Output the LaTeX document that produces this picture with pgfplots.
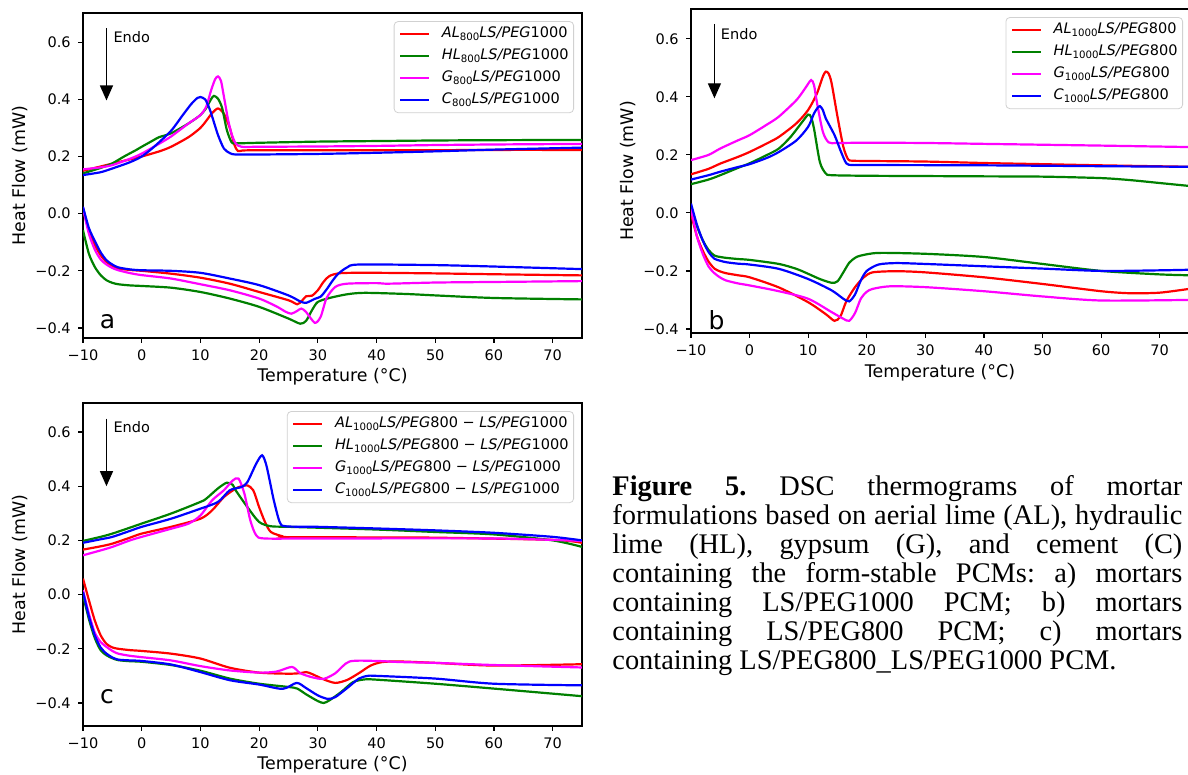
\documentclass[border=0pt]{standalone}
\usepackage{fontspec}
\setmainfont{Liberation Serif}
\newfontfamily\mpl{DejaVu Sans}
\usepackage{pgfplots}
\pgfplotsset{compat=1.18}
\usetikzlibrary{arrows.meta}
\definecolor{mplred}{HTML}{FF0000}
\definecolor{mplgreen}{HTML}{008000}
\definecolor{mplmag}{HTML}{FF00FF}
\definecolor{mplblue}{HTML}{0000FF}
\newcommand\tickfont{\mpl\fontsize{7.25}{8.7}\selectfont}
\newcommand\labfont{\mpl\fontsize{8.7}{10}\selectfont}
\newcommand\lsub[1]{\raisebox{-1.3pt}{\fontsize{5.1}{6}\selectfont #1}}
\newcommand\capline[2]{\node[anchor=base west, inner sep=0pt] at (306pt,#1) {\frenchspacing\makebox[285pt][s]{#2}};}
\tikzset{endo/.style={-{Triangle[width=6.5pt,length=7.5pt]}, line width=0.65pt, black}}

\pgfplotsset{
  dsc/.style={
    scale only axis, anchor=south west,
    xmin=-10, xmax=75,
    xtick={-10,0,10,20,30,40,50,60,70},
    xticklabels={−10,0,10,20,30,40,50,60,70},
    ytick={-0.4,-0.2,0,0.2,0.4,0.6},
    yticklabels={−0.4,−0.2,0.0,0.2,0.4,0.6},
    tick pos=left, tick align=outside,
    major tick length=2.5pt,
    every tick/.style={black, line width=0.6pt},
    axis line style={black, line width=0.6pt},
    ticklabel style={font=\tickfont, inner sep=0pt},
    xticklabel shift=3pt, yticklabel shift=3.5pt,
    label style={font=\labfont},
    xlabel={Temperature (°C)}, ylabel={Heat Flow (mW)},
    xlabel style={anchor=center},
    ylabel style={anchor=center},
    legend cell align=left,
    legend style={font=\tickfont, draw=black!18, fill=white, fill opacity=0.8,
      text opacity=1, rounded corners=2pt, inner xsep=2.5pt, inner ysep=2.5pt,
      row sep=3.4pt, anchor=north east,
      nodes={inner sep=0pt, text height=5.7pt, text depth=1.9pt},
      /tikz/every odd column/.append style={column sep=5.8pt}},
    legend image code/.code={\draw[#1] (0pt,0pt) -- (14.5pt,0pt);},
    every axis plot/.append style={line width=1.1pt, smooth, tension=0.45},
  },
}

\begin{document}
\begin{tikzpicture}
\useasboundingbox (0,0) rectangle (594pt,387.5pt);

% ---------------- a ----------------
\begin{axis}[dsc, at={(41.5pt,218.5pt)}, width=249.5pt, height=162.5pt,
  ymin=-0.435, ymax=0.702,
  xlabel style={at={(axis description cs:0.5,-0.12)}},
  ylabel style={at={(axis description cs:-0.126,0.5)}},
  legend style={at={(axis description cs:0.984,0.975)}}]
\addplot[mplred] coordinates {(-10,0.150) (-7,0.165) (-5,0.175) (-2,0.19) (0,0.200) (3,0.218) (5,0.234) (8,0.268) (10,0.300) (11,0.325) (12,0.352) (13,0.368) (14,0.35) (15,0.3) (15.8,0.24) (16.4,0.219) (17.2,0.221) (20,0.222) (30,0.222) (40,0.222) (50,0.222) (60,0.223) (75,0.223)};
\addlegendentry{{\itshape AL}\lsub{800}{\itshape LS/PEG}1000}
\addplot[mplred, forget plot] coordinates {(-10,0.018) (-9,-0.06) (-8,-0.11) (-7,-0.145) (-6,-0.169) (-5,-0.183) (-4,-0.192) (-2,-0.197) (0,-0.2) (5,-0.21) (10,-0.224) (15,-0.245) (20,-0.274) (25,-0.303) (26.5,-0.317) (27.3,-0.305) (28,-0.289) (29,-0.287) (30,-0.268) (31,-0.238) (32,-0.218) (34,-0.208) (40,-0.207) (50,-0.209) (60,-0.212) (75,-0.216)};
\addplot[mplgreen] coordinates {(-10,0.141) (-7,0.16) (-5,0.176) (-3,0.2) (-1,0.222) (0,0.234) (2,0.257) (3,0.268) (5,0.281) (8,0.316) (10,0.345) (11,0.37) (11.8,0.4) (12.3,0.412) (13,0.402) (13.7,0.37) (14.5,0.293) (15.3,0.25) (16,0.246) (20,0.248) (30,0.252) (40,0.254) (50,0.256) (60,0.257) (75,0.258)};
\addlegendentry{{\itshape HL}\lsub{800}{\itshape LS/PEG}1000}
\addplot[mplgreen, forget plot] coordinates {(-10,-0.058) (-9,-0.14) (-8,-0.186) (-7,-0.215) (-6,-0.233) (-5,-0.242) (-4,-0.247) (-2,-0.251) (0,-0.253) (5,-0.259) (10,-0.274) (15,-0.297) (20,-0.326) (25,-0.367) (27,-0.385) (28,-0.375) (29,-0.338) (30,-0.309) (32,-0.295) (35,-0.282) (38,-0.277) (45,-0.281) (50,-0.286) (60,-0.295) (75,-0.3)};
\addplot[mplmag] coordinates {(-10,0.155) (-7,0.162) (-5,0.17) (-2,0.192) (0,0.21) (3,0.245) (5,0.27) (8,0.316) (10,0.345) (11,0.375) (11.8,0.43) (12.5,0.47) (13,0.48) (13.5,0.465) (14,0.41) (14.7,0.33) (15.3,0.28) (16,0.246) (17,0.234) (20,0.234) (30,0.235) (40,0.237) (50,0.240) (60,0.242) (75,0.244)};
\addlegendentry{{\itshape G}\lsub{800}{\itshape LS/PEG}1000}
\addplot[mplmag, forget plot] coordinates {(-10,0.02) (-9,-0.07) (-8,-0.125) (-7,-0.16) (-6,-0.178) (-5,-0.19) (-4,-0.198) (-2,-0.208) (0,-0.215) (5,-0.227) (10,-0.247) (15,-0.268) (20,-0.297) (23,-0.325) (24.5,-0.343) (25.5,-0.35) (26.5,-0.34) (27.2,-0.332) (28,-0.344) (29.5,-0.382) (30.5,-0.36) (31.5,-0.295) (33,-0.256) (35,-0.245) (40,-0.243) (42,-0.245) (50,-0.241) (60,-0.239) (75,-0.236)};
\addplot[mplblue] coordinates {(-10,0.135) (-7,0.145) (-5,0.158) (-2,0.18) (0,0.2) (2,0.232) (5,0.29) (7,0.345) (8.5,0.385) (9.5,0.405) (10,0.408) (10.8,0.4) (11.5,0.37) (12,0.34) (13,0.275) (14,0.228) (15,0.212) (16,0.207) (20,0.207) (30,0.209) (40,0.213) (50,0.218) (60,0.224) (75,0.231)};
\addlegendentry{{\itshape C}\lsub{800}{\itshape LS/PEG}1000}
\addplot[mplblue, forget plot] coordinates {(-10,0.024) (-9,-0.05) (-8,-0.095) (-7,-0.135) (-6,-0.163) (-5,-0.178) (-4,-0.188) (-2,-0.195) (0,-0.198) (5,-0.2) (10,-0.207) (15,-0.227) (20,-0.25) (25,-0.286) (27,-0.307) (28,-0.312) (29.5,-0.298) (30.5,-0.29) (31.5,-0.265) (32.5,-0.235) (33.5,-0.21) (35,-0.188) (37,-0.178) (50,-0.18) (60,-0.185) (75,-0.194)};
\draw[endo] (axis cs:-6,0.649) -- (axis cs:-6,0.396);
\node[anchor=west, inner sep=0pt, font=\tickfont] at (axis cs:-4.86,0.618) {Endo};
\node[inner sep=0pt, font=\mpl\fontsize{12.5}{14}\selectfont] at (axis cs:-5.8,-0.377) {a};
\end{axis}

% ---------------- b ----------------
\begin{axis}[dsc, at={(345.5pt,221pt)}, width=249pt, height=162pt,
  ymin=-0.414, ymax=0.703,
  xlabel style={at={(axis description cs:0.5,-0.1235)}},
  ylabel style={at={(axis description cs:-0.126,0.5)}},
  legend style={at={(axis description cs:0.988,0.975)}}]
\addplot[mplred] coordinates {(-10,0.133) (-7,0.152) (-5,0.17) (-2,0.193) (0,0.21) (3,0.24) (5,0.262) (8,0.309) (10,0.355) (11.5,0.412) (12.5,0.47) (13,0.487) (13.5,0.48) (14,0.447) (15,0.332) (16,0.228) (16.8,0.185) (17.5,0.18) (20,0.179) (30,0.177) (40,0.172) (50,0.168) (60,0.164) (75,0.159)};
\addlegendentry{{\itshape AL}\lsub{1000}{\itshape LS/PEG}800}
\addplot[mplred, forget plot] coordinates {(-10,-0.002) (-9,-0.08) (-8,-0.13) (-7,-0.168) (-6,-0.192) (-5,-0.202) (-4,-0.208) (-2,-0.215) (0,-0.222) (5,-0.257) (10,-0.308) (13,-0.349) (14.5,-0.372) (15.5,-0.357) (16.5,-0.305) (18,-0.256) (19.5,-0.222) (21,-0.205) (25,-0.201) (30,-0.205) (40,-0.222) (50,-0.245) (60,-0.27) (65,-0.277) (70,-0.275) (75,-0.262)};
\addplot[mplgreen] coordinates {(-10,0.099) (-7,0.115) (-5,0.13) (-2,0.155) (0,0.171) (3,0.2) (5,0.222) (7,0.262) (9,0.314) (10,0.339) (10.5,0.33) (11,0.29) (12,0.175) (13,0.136) (14,0.13) (20,0.128) (30,0.127) (40,0.126) (50,0.125) (60,0.12) (65,0.113) (70,0.103) (75,0.093)};
\addlegendentry{{\itshape HL}\lsub{1000}{\itshape LS/PEG}800}
\addplot[mplgreen, forget plot] coordinates {(-10,0.021) (-9,-0.045) (-8,-0.094) (-7,-0.128) (-6,-0.147) (-5,-0.152) (-4,-0.155) (-2,-0.159) (0,-0.162) (5,-0.176) (8,-0.193) (10,-0.21) (12,-0.228) (14,-0.241) (15,-0.236) (16,-0.205) (17,-0.172) (18,-0.155) (19,-0.147) (22,-0.138) (30,-0.141) (40,-0.152) (50,-0.176) (60,-0.2) (70,-0.212) (75,-0.215)};
\addplot[mplmag] coordinates {(-10,0.182) (-7,0.2) (-5,0.222) (-2,0.25) (0,0.268) (3,0.305) (5,0.332) (8,0.389) (9.5,0.43) (10.5,0.458) (11,0.44) (11.5,0.38) (12.5,0.28) (13.5,0.243) (15,0.241) (20,0.242) (30,0.241) (40,0.238) (50,0.235) (60,0.232) (75,0.227)};
\addlegendentry{{\itshape G}\lsub{1000}{\itshape LS/PEG}800}
\addplot[mplmag, forget plot] coordinates {(-10,0.015) (-9,-0.08) (-8,-0.141) (-7,-0.185) (-6,-0.208) (-5,-0.223) (-4,-0.233) (-2,-0.243) (0,-0.25) (5,-0.27) (10,-0.296) (14,-0.342) (16,-0.365) (17,-0.372) (18,-0.345) (19,-0.295) (20,-0.272) (21,-0.262) (24,-0.253) (30,-0.256) (40,-0.27) (50,-0.288) (60,-0.302) (75,-0.3)};
\addplot[mplblue] coordinates {(-10,0.115) (-7,0.13) (-5,0.142) (-2,0.158) (0,0.168) (3,0.19) (5,0.21) (8,0.25) (10,0.297) (11,0.343) (11.6,0.362) (12,0.368) (12.5,0.355) (13,0.326) (14.5,0.268) (15.5,0.216) (16.5,0.171) (17.5,0.165) (20,0.165) (40,0.164) (60,0.161) (75,0.159)};
\addlegendentry{{\itshape C}\lsub{1000}{\itshape LS/PEG}800}
\addplot[mplblue, forget plot] coordinates {(-10,0.032) (-9,-0.04) (-8,-0.095) (-7,-0.135) (-6,-0.158) (-5,-0.165) (-4,-0.17) (-2,-0.175) (0,-0.178) (5,-0.193) (10,-0.228) (14,-0.267) (16,-0.296) (17,-0.305) (18,-0.281) (19,-0.232) (20,-0.2) (22,-0.178) (25,-0.173) (30,-0.176) (40,-0.184) (50,-0.192) (60,-0.2) (70,-0.198) (75,-0.196)};
\draw[endo] (axis cs:-6,0.652) -- (axis cs:-6,0.395);
\node[anchor=west, inner sep=0pt, font=\tickfont] at (axis cs:-4.95,0.617) {Endo};
\node[inner sep=0pt, font=\mpl\fontsize{12.5}{14}\selectfont] at (axis cs:-5.65,-0.371) {b};
\end{axis}

% ---------------- c ----------------
\begin{axis}[dsc, at={(41.5pt,24.5pt)}, width=249.5pt, height=161.5pt,
  ymin=-0.485, ymax=0.707,
  xlabel style={at={(axis description cs:0.5,-0.1207)}},
  ylabel style={at={(axis description cs:-0.126,0.5)}},
  legend style={at={(axis description cs:0.984,0.975)}}]
\addplot[mplred] coordinates {(-10,0.166) (-7,0.178) (-5,0.188) (-2,0.21) (0,0.225) (5,0.25) (10,0.28) (12,0.311) (14,0.36) (16,0.391) (17,0.4) (18,0.403) (19,0.385) (20,0.323) (21,0.268) (22,0.231) (24,0.215) (25,0.212) (40,0.211) (50,0.21) (70,0.202) (75,0.191)};
\addlegendentry{{\itshape AL}\lsub{1000}{\itshape LS/PEG}800 − {\itshape LS/PEG}1000}
\addplot[mplred, forget plot] coordinates {(-10,0.059) (-9,-0.02) (-8,-0.095) (-7,-0.15) (-6,-0.182) (-5,-0.195) (-4,-0.2) (-2,-0.205) (0,-0.208) (5,-0.218) (10,-0.236) (15,-0.27) (20,-0.288) (25,-0.292) (27,-0.29) (28,-0.286) (29,-0.293) (31,-0.313) (33,-0.326) (35,-0.315) (37,-0.29) (39,-0.262) (41,-0.249) (44,-0.247) (50,-0.252) (60,-0.262) (75,-0.257)};
\addplot[mplgreen] coordinates {(-10,0.198) (-7,0.213) (-5,0.225) (-2,0.247) (0,0.262) (5,0.299) (10,0.342) (11,0.354) (13,0.392) (14.5,0.413) (15.5,0.405) (16,0.385) (18,0.323) (20,0.268) (22,0.252) (25,0.25) (40,0.24) (50,0.231) (60,0.222) (70,0.2) (75,0.176)};
\addlegendentry{{\itshape HL}\lsub{1000}{\itshape LS/PEG}800 − {\itshape LS/PEG}1000}
\addplot[mplgreen, forget plot] coordinates {(-10,-0.002) (-9,-0.09) (-8,-0.16) (-7,-0.205) (-6,-0.224) (-5,-0.235) (-4,-0.242) (-2,-0.246) (0,-0.248) (5,-0.26) (10,-0.281) (15,-0.31) (20,-0.329) (25,-0.341) (26.5,-0.347) (28,-0.368) (30,-0.393) (31,-0.4) (32,-0.39) (34,-0.359) (36,-0.323) (38,-0.313) (40,-0.314) (50,-0.329) (60,-0.347) (75,-0.375)};
\addplot[mplmag] coordinates {(-10,0.145) (-7,0.163) (-5,0.176) (-2,0.2) (0,0.213) (5,0.243) (8,0.262) (10,0.292) (12,0.348) (14,0.385) (15.5,0.421) (16.5,0.428) (17.5,0.372) (18.5,0.274) (19.5,0.219) (21,0.207) (30,0.207) (60,0.207) (75,0.198)};
\addlegendentry{{\itshape G}\lsub{1000}{\itshape LS/PEG}800 − {\itshape LS/PEG}1000}
\addplot[mplmag, forget plot] coordinates {(-10,0.016) (-9,-0.07) (-8,-0.14) (-7,-0.175) (-6,-0.193) (-5,-0.208) (-4,-0.218) (-2,-0.226) (0,-0.231) (5,-0.243) (10,-0.264) (15,-0.28) (20,-0.288) (23,-0.284) (25.6,-0.267) (27,-0.29) (29,-0.305) (31,-0.311) (33,-0.29) (35.4,-0.247) (40,-0.245) (44,-0.249) (50,-0.252) (60,-0.26) (75,-0.269)};
\addplot[mplblue] coordinates {(-10,0.191) (-7,0.204) (-5,0.213) (-2,0.235) (0,0.25) (5,0.28) (10,0.317) (13,0.342) (15,0.385) (17,0.397) (18,0.415) (19.5,0.483) (20.5,0.514) (21.2,0.48) (22,0.4) (22.5,0.348) (23.5,0.268) (24.5,0.252) (30,0.25) (40,0.244) (50,0.237) (60,0.228) (70,0.213) (75,0.2)};
\addlegendentry{{\itshape C}\lsub{1000}{\itshape LS/PEG}800 − {\itshape LS/PEG}1000}
\addplot[mplblue, forget plot] coordinates {(-10,0.01) (-9,-0.08) (-8,-0.15) (-7,-0.195) (-6,-0.218) (-5,-0.232) (-4,-0.24) (-2,-0.243) (0,-0.245) (5,-0.258) (10,-0.286) (15,-0.316) (20,-0.332) (24,-0.348) (26.4,-0.326) (28,-0.345) (30,-0.372) (31.7,-0.385) (33,-0.378) (35,-0.345) (37,-0.31) (38.5,-0.3) (40,-0.3) (50,-0.31) (60,-0.329) (75,-0.335)};
\draw[endo] (axis cs:-6,0.649) -- (axis cs:-6,0.4);
\node[anchor=west, inner sep=0pt, font=\tickfont] at (axis cs:-4.86,0.618) {Endo};
\node[inner sep=0pt, font=\mpl\fontsize{12.5}{14}\selectfont] at (axis cs:-5.9,-0.378) {c};
\end{axis}

% ---------------- caption ----------------
\begin{scope}[font=\fontsize{14.2}{14.4}\selectfont]
\capline{139.5pt}{\textbf{Figure 5.} DSC thermograms of mortar}
\capline{125.05pt}{formulations based on aerial lime (AL), hydraulic}
\capline{110.6pt}{lime (HL), gypsum (G), and cement (C)}
\capline{96.15pt}{containing the form-stable PCMs: a) mortars}
\capline{81.7pt}{containing LS/PEG1000 PCM; b) mortars}
\capline{67.25pt}{containing LS/PEG800 PCM; c) mortars}
\node[anchor=base west, inner sep=0pt] at (306pt,52.8pt) {containing LS/PEG800\_LS/PEG1000 PCM.};
\end{scope}
\end{tikzpicture}
\end{document}
